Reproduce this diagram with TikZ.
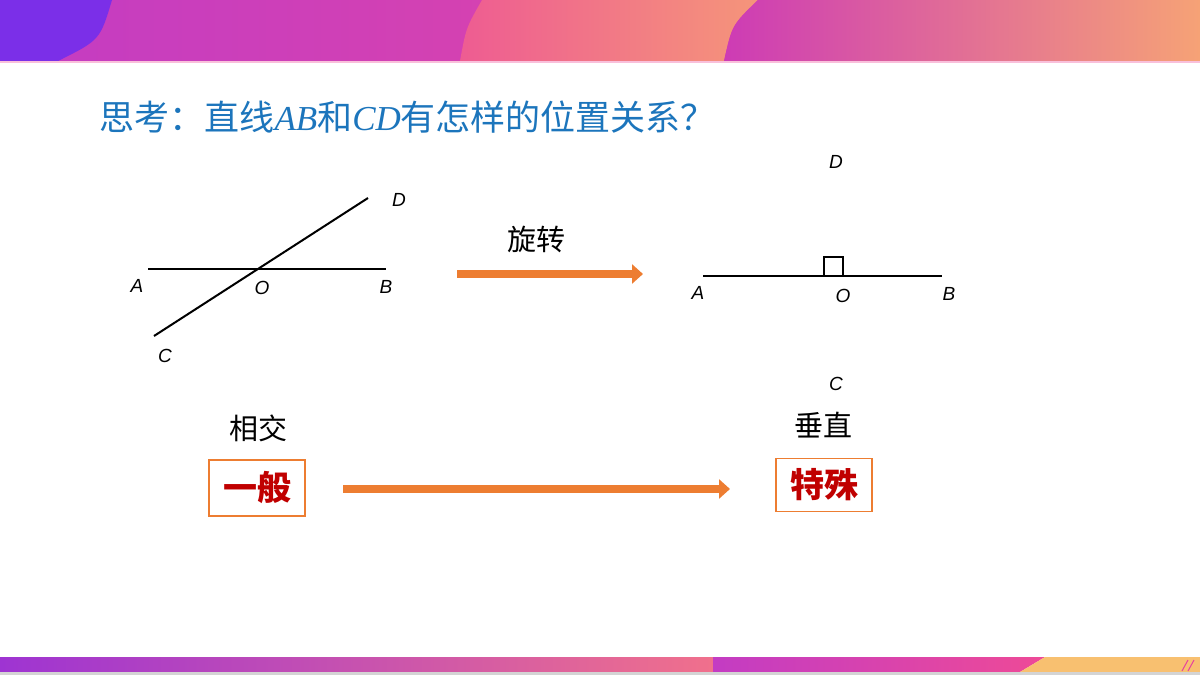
\documentclass[tikz,border=0pt]{standalone}
\usepackage{fontspec}
\usepackage{xcolor}
\usetikzlibrary{arrows.meta}
\setmainfont{Liberation Serif}
\newfontfamily\cjk{Noto Sans CJK SC}
\newfontfamily\lbl{Liberation Sans}
\newfontfamily\serifit{Liberation Serif}

\definecolor{titleblue}{RGB}{28,117,188}
\definecolor{arroworange}{RGB}{237,125,49}
\definecolor{keyred}{RGB}{192,0,0}
\definecolor{bnpurple}{RGB}{123,47,232}
\definecolor{bnmagenta}{RGB}{195,60,195}
\definecolor{bnpink}{RGB}{238,74,151}
\definecolor{bnrose}{RGB}{238,92,146}
\definecolor{bnsalmon}{RGB}{245,149,122}
\definecolor{bnorchid}{RGB}{205,59,181}
\definecolor{bnhot}{RGB}{232,64,159}
\definecolor{bnpeach}{RGB}{246,162,118}
\definecolor{bnviolet}{RGB}{158,52,210}
\definecolor{bncoral}{RGB}{240,112,140}
\definecolor{bnyellow}{RGB}{248,192,112}

\tikzset{
  ptlabel/.style={font=\lbl\itshape\fontsize{19}{21}\selectfont},
  cnlabel/.style={font=\cjk\fontsize{29}{32}\selectfont},
  keybox/.style={draw=arroworange, line width=1.6pt, minimum width=96pt,
    minimum height=56pt, inner sep=0pt, text=keyred,
    font=\cjk\bfseries\fontsize{34}{38}\selectfont},
  bigarrow/.style={draw=arroworange, line width=8pt,
    -{Triangle[length=11pt,width=19pt]}},
  geoline/.style={line width=2pt, black}
}

\begin{document}
\begin{tikzpicture}[x=1pt, y=-1pt]
        \useasboundingbox (0,0) rectangle (1200,675);
        % top banner
        \shade[left color=bnmagenta, right color=bnpink] (0,0) rectangle (1200,61);
        \shade[left color=bnrose, right color=bnsalmon] (460,61) .. controls (466,28) .. (482,0)
          -- (758,0) .. controls (732,25) .. (724,61) -- cycle;
        \shade[left color=bnorchid, middle color=bnhot, right color=bnpeach] (724,61)
          .. controls (732,25) .. (758,0) -- (1200,0) -- (1200,61) -- cycle;
        \fill[bnpurple] (0,0) -- (112,0) .. controls (100,40) .. (58,61) -- (0,61) -- cycle;
        \fill[bnpink!35] (0,61) rectangle (1200,63);
        % bottom strip
        \shade[left color=bnviolet, right color=bncoral] (0,657) rectangle (713,672);
        \shade[left color=bnmagenta, right color=bnpink] (713,657) -- (1045,657) -- (1020,672)
          -- (713,672) -- cycle;
        \fill[bnyellow] (1045,657) -- (1200,657) -- (1200,672) -- (1020,672) -- cycle;
        \draw[bnhot, line width=1pt] (1182,671) -- (1188,660) (1188,671) -- (1194,660);
        \fill[black!17] (0,672) rectangle (1200,675);

        % title
        \node[anchor=west, text=titleblue, font=\cjk\fontsize{35}{39}\selectfont] (title) at (96,117)
          {思考：直线{\serifit\itshape AB}和{\serifit\itshape CD}有怎样的位置关系？};

        % intersecting lines
        \coordinate (A1) at (148,269);
        \coordinate (B1) at (386,269);
        \coordinate (C1) at (154,336);
        \coordinate (D1) at (368,198);
        \draw[geoline] (A1) -- (B1);
        \draw[geoline] (C1) -- (D1);
        \node[ptlabel] (lA1) at (137,286) {A};
        \node[ptlabel] (lO1) at (262,288) {O};
        \node[ptlabel] (lB1) at (386,287) {B};
        \node[ptlabel] (lC1) at (165,356) {C};
        \node[ptlabel] (lD1) at (399,200) {D};

        % rotate arrow
        \node[cnlabel] (rot) at (536,239) {旋转};
        \coordinate (r1) at (457,274);
        \coordinate (r2) at (643,274);
        \draw[bigarrow] (r1) -- (r2);

        % perpendicular lines
        \coordinate (A2) at (703,276);
        \coordinate (B2) at (942,276);
        \coordinate (O2) at (824,276);
        \draw[geoline] (A2) -- (B2);
        \draw[line width=1.5pt] (O2) rectangle ++(19,-19);
        \node[ptlabel] (lA2) at (698,293) {A};
        \node[ptlabel] (lO2) at (843,296) {O};
        \node[ptlabel] (lB2) at (949,294) {B};
        \node[ptlabel] (lD2) at (836,162) {D};
        \node[ptlabel] (lC2) at (836,384) {C};

        % general to special
        \node[cnlabel] (xiangjiao) at (258,428) {相交};
        \node[cnlabel] (chuizhi) at (823,425) {垂直};
        \node[keybox] (yiban) at (257,488) {一般};
        \node[keybox, minimum height=53pt] (teshu) at (824,485) {特殊};
        \coordinate (g1) at (343,489);
        \coordinate (g2) at (730,489);
        \draw[bigarrow] (g1) -- (g2);
    \end{tikzpicture}
\end{document}
